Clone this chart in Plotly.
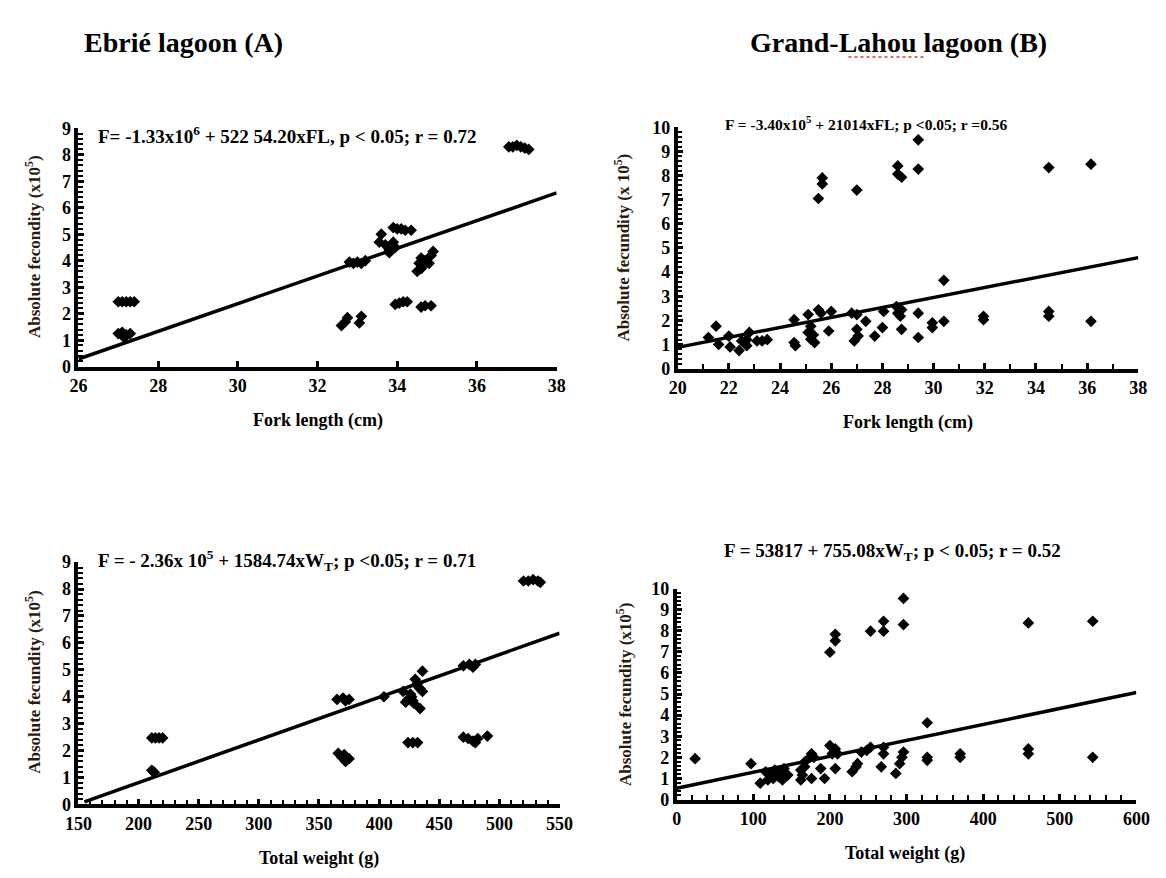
import plotly.graph_objects as go

# ---------------- data ----------------
# Panel A: Ebrié lagoon, fork length (cm) vs absolute fecundity (x10^5)
a_fl = [27.0, 27.1, 27.2, 27.3, 27.4,
        27.0, 27.1, 27.2, 27.3, 27.15,
        32.6, 32.7, 32.75, 33.05, 33.1,
        32.8, 32.9, 33.0, 33.1, 33.2,
        33.55, 33.6, 33.7, 33.8, 33.9, 33.95, 33.8,
        33.9, 34.0, 34.1, 34.2, 34.35,
        33.95, 34.05, 34.15, 34.25,
        34.5, 34.55, 34.6, 34.65, 34.7, 34.8, 34.85, 34.9, 34.6,
        34.6, 34.7, 34.85,
        36.8, 36.9, 37.0, 37.1, 37.2, 37.3]
a_fec = [2.45, 2.45, 2.45, 2.45, 2.45,
         1.25, 1.3, 1.2, 1.25, 1.1,
         1.55, 1.7, 1.85, 1.65, 1.9,
         3.95, 3.9, 3.95, 3.9, 4.0,
         4.7, 5.0, 4.6, 4.4, 4.7, 4.5, 4.3,
         5.25, 5.2, 5.2, 5.15, 5.15,
         2.35, 2.4, 2.45, 2.45,
         3.6, 3.9, 4.1, 3.8, 4.0, 3.9, 4.2, 4.35, 3.7,
         2.25, 2.3, 2.3,
         8.3, 8.3, 8.35, 8.3, 8.25, 8.2]
a_line_x = [26, 38]
a_line_y = [0.29, 6.56]

# Panel B: Grand-Lahou lagoon, fork length (cm)
b_fl = [21.5, 21.2, 21.6, 22.0, 22.05, 22.4, 22.5, 22.7, 22.8, 22.7, 23.1, 23.5, 23.3,
        24.55, 24.55, 24.6, 25.1, 25.2, 25.1, 25.2, 25.35, 25.3, 25.5, 25.6, 26.0, 25.9,
        25.5, 25.65, 25.65, 27.0, 26.8, 27.0, 27.0, 26.9, 27.05, 27.35, 27.7, 28.0, 28.05,
        28.55, 28.6, 28.7, 28.75, 28.75, 28.6, 28.6, 28.75,
        29.4, 29.4, 29.4, 29.4, 29.95, 29.95, 30.4, 30.4, 31.95, 31.95,
        34.5, 34.5, 34.5, 36.15, 36.15]
b_fec = [1.76, 1.29, 1.0, 1.35, 0.9, 0.75, 1.15, 0.95, 1.5, 1.2, 1.15, 1.2, 1.15,
         2.03, 1.08, 0.95, 2.24, 1.76, 1.5, 1.22, 1.08, 1.4, 2.44, 2.3, 2.37, 1.56,
         7.05, 7.9, 7.65, 7.4, 2.3, 2.24, 1.63, 1.15, 1.35, 1.96, 1.35, 1.7, 2.37,
         2.57, 2.3, 2.17, 2.44, 1.63, 8.4, 8.06, 7.93,
         9.48, 8.27, 2.3, 1.29, 1.9, 1.7, 1.96, 3.66, 2.17, 2.03,
         8.33, 2.37, 2.17, 8.47, 1.96]
b_line_x = [20, 38]
b_line_y = [0.88, 4.6]

# Panel C: Ebrié lagoon, total weight (g)
c_wt = [211, 214, 217, 220, 211, 213,
        365, 370, 375, 372,
        366, 369, 372, 375, 371,
        404,
        420, 422, 424, 426, 428, 430, 432, 434, 427, 429, 431, 436,
        436, 434,
        424, 428, 432,
        470, 475, 480, 478,
        470, 474, 478, 480, 482, 490,
        520, 524, 528, 532, 534]
c_fec = [2.47, 2.47, 2.47, 2.47, 1.27, 1.2,
         3.9, 3.95, 3.9, 3.85,
         1.9, 1.75, 1.6, 1.7, 1.85,
         4.0,
         4.2, 3.8, 3.9, 4.1, 3.85, 4.65, 4.5, 4.3, 4.0, 3.75, 4.45, 4.2,
         4.95, 3.56,
         2.3, 2.3, 2.3,
         5.15, 5.2, 5.2, 5.1,
         2.5, 2.45, 2.35, 2.3, 2.45, 2.54,
         8.3, 8.3, 8.35, 8.3, 8.25]
c_line_x = [155, 550]
c_line_y = [0.1, 6.36]

# Panel D: Grand-Lahou lagoon, total weight (g)
d_wt = [24, 97, 109, 116, 119, 124, 126, 128, 133, 136, 138, 140, 145,
        162, 162, 164, 167, 167, 174, 176, 179, 176, 188, 193,
        200, 203, 207, 210, 207, 200, 207, 207,
        229, 234, 236, 241, 248, 253, 253, 270, 270, 267, 270, 270,
        286, 291, 294, 296, 296, 296,
        327, 327, 327, 370, 370, 459, 459, 459, 543, 543]
d_fec = [1.94, 1.7, 0.78, 1.32, 0.93, 1.24, 1.0, 1.4, 1.09, 1.32, 0.93, 1.47, 1.16,
         1.4, 0.93, 1.16, 1.55, 1.78, 2.0, 2.17, 2.0, 1.0, 1.47, 1.0,
         2.56, 2.17, 2.4, 2.17, 1.47, 6.98, 7.83, 7.52,
         1.32, 1.55, 1.7, 2.25, 2.33, 2.48, 7.98, 8.45, 7.98, 1.55, 2.17, 2.48,
         1.24, 1.7, 2.0, 2.25, 9.53, 8.29,
         3.64, 2.0, 1.86, 2.17, 2.0, 8.37, 2.4, 2.17, 8.45, 2.0]
d_line_x = [0, 600]
d_line_y = [0.54, 5.07]

# ---------------- figure ----------------
W, H = 1166, 878
FONT = "Liberation Serif"
TXT = "#2a1a0c"

def px(x):
    return x / W

def py(y):
    return 1 - y / H

fig = go.Figure()

panels = [
    dict(x=a_fl, y=a_fec, lx=a_line_x, ly=a_line_y, xr=[26, 38], yr=[0, 9], dt=2, mdt=None,
         xd=(66, 556), yd=(121, 365)),
    dict(x=b_fl, y=b_fec, lx=b_line_x, ly=b_line_y, xr=[20, 38], yr=[0, 10], dt=2, mdt=1,
         xd=(680, 1152), yd=(120, 367)),
    dict(x=c_wt, y=c_fec, lx=c_line_x, ly=c_line_y, xr=[150, 550], yr=[0, 9], dt=50, mdt=10,
         xd=(66, 559), yd=(565, 813)),
    dict(x=d_wt, y=d_fec, lx=d_line_x, ly=d_line_y, xr=[0, 600], yr=[0, 10], dt=100, mdt=20,
         xd=(679, 1150), yd=(592, 808)),
]

TICKFONT = dict(family=FONT, size=18, color="black", weight="bold")

layout = {}
for i, p in enumerate(panels, start=1):
    xa = "x" if i == 1 else f"x{i}"
    ya = "y" if i == 1 else f"y{i}"
    fig.add_trace(go.Scatter(x=p["lx"], y=p["ly"], mode="lines", xaxis=xa, yaxis=ya,
                             line=dict(color="black", width=3.5), showlegend=False,
                             hoverinfo="skip"))
    fig.add_trace(go.Scatter(x=p["x"], y=p["y"], mode="markers", xaxis=xa, yaxis=ya,
                             marker=dict(symbol="diamond", size=9, color="black"),
                             showlegend=False))
    xkey = "xaxis" if i == 1 else f"xaxis{i}"
    ykey = "yaxis" if i == 1 else f"yaxis{i}"
    xaxis = dict(
        domain=[px(p["xd"][0]), px(p["xd"][1])], range=p["xr"], anchor=ya,
        showline=True, linewidth=3.5, linecolor="black", showgrid=False, zeroline=False,
        ticks="inside", ticklen=6, tickwidth=2.5, tickcolor="black", dtick=p["dt"],
        tickfont=TICKFONT)
    if p["mdt"]:
        xaxis["minor"] = dict(ticks="inside", ticklen=5, tickwidth=2, tickcolor="black",
                              dtick=p["mdt"])
    layout[xkey] = xaxis
    layout[ykey] = dict(
        domain=[py(p["yd"][1]), py(p["yd"][0])], range=p["yr"], anchor=xa,
        showline=True, linewidth=3.5, linecolor="black", showgrid=False, zeroline=False,
        ticks="inside", ticklen=6, tickwidth=2.5, tickcolor="black", dtick=1,
        minor=dict(ticks="inside", ticklen=4.5, tickwidth=2, tickcolor="black", dtick=0.2),
        tickfont=TICKFONT)

ann = []
def text(x, y, t, size=15, xanchor="left", color="black", angle=0):
    ann.append(dict(x=px(x), y=py(y), xref="paper", yref="paper", text=t, showarrow=False,
                    xanchor=xanchor, yanchor="middle", textangle=angle,
                    font=dict(family=FONT, size=size, color=color)))

# panel titles
text(70, 33, "<b>Ebrié lagoon (A)</b>", size=28)
text(752, 33, "<b>Grand-Lahou lagoon (B)</b>", size=28)

# equations
text(84, 128, "<b>F= -1.33x10<sup>6</sup> + 522 54.20xFL, p &lt; 0.05; r = 0.72</b>", size=19)
text(726, 116, "<b>F = -3.40x10<sup>5</sup> + 21014xFL; p &lt;0.05; r =0.56</b>", size=15.5)
text(84, 563, "<b>F = - 2.36x 10<sup>5</sup> + 1584.74xW<sub>T</sub>; p &lt;0.05; r = 0.71</b>", size=19)
text(900, 555, "<b>F = 53817 + 755.08xW<sub>T</sub>; p &lt; 0.05; r = 0.52</b>", size=19, xanchor="center")

# x-axis titles
text(311, 420, "<b>Fork length (cm)</b>", size=18, xanchor="center")
text(916, 422, "<b>Fork length (cm)</b>", size=18, xanchor="center")
text(313, 868, "<b>Total weight (g)</b>", size=18, xanchor="center")
text(913, 863, "<b>Total weight (g)</b>", size=18, xanchor="center")

# y-axis titles
text(20, 242, "<b>Absolute fecondity (x10<sup>5</sup>)</b>", size=17, xanchor="center", color=TXT, angle=-90)
text(623, 243, "<b>Absolute fecundity (x 10<sup>5</sup>)</b>", size=17, xanchor="center", color=TXT, angle=-90)
text(20, 688, "<b>Absolute fecundity (x10<sup>5</sup>)</b>", size=17, xanchor="center", color=TXT, angle=-90)
text(625, 700, "<b>Absolute fecundity (x10<sup>5</sup>)</b>", size=17, xanchor="center", color=TXT, angle=-90)

# spell-check squiggle under "Lahou" in the right title
shapes = [dict(type="line", xref="paper", yref="paper", x0=px(855), x1=px(935),
               y0=py(48), y1=py(48), line=dict(color="#e03030", width=1.5, dash="dot"))]

fig.update_layout(
    width=W, height=H, margin=dict(l=0, r=0, t=0, b=0),
    paper_bgcolor="white", plot_bgcolor="white",
    annotations=ann, shapes=shapes, **layout)

fig.write_html("out.html", config={"displayModeBar": False},
               post_script="document.body.style.margin='0';")
